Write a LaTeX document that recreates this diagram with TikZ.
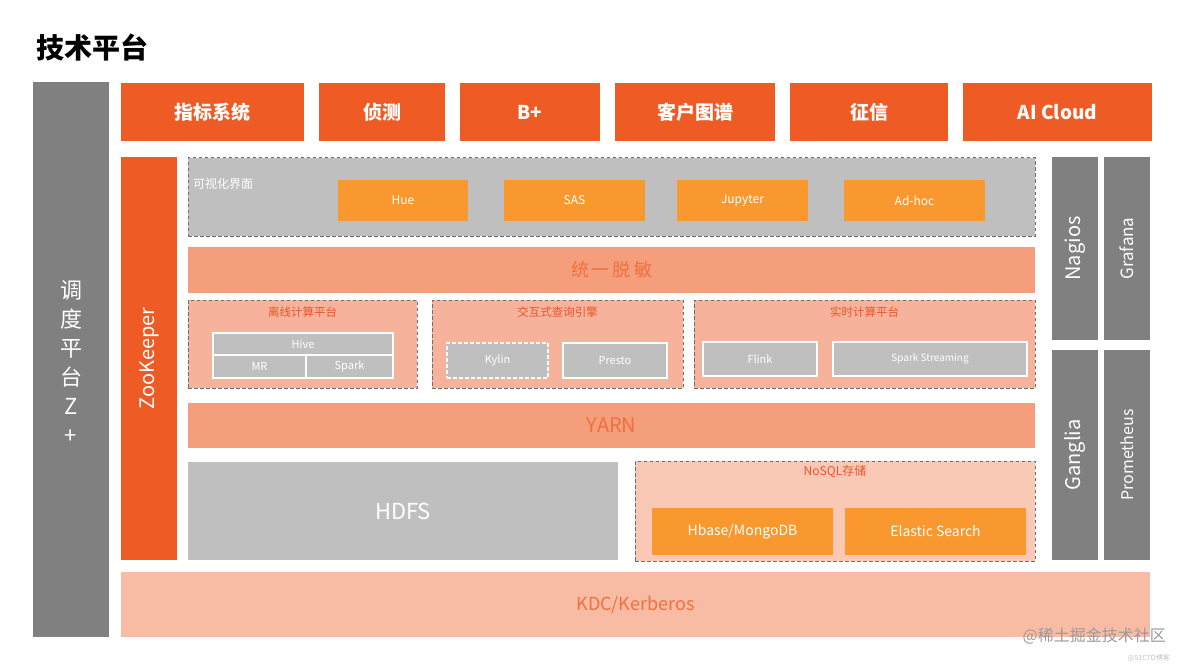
\documentclass[tikz,border=0pt]{standalone}
\usepackage{fontspec}
\setmainfont{Noto Sans CJK SC}
\usetikzlibrary{positioning}
\definecolor{cRed}{HTML}{EF5B25}
\definecolor{cGray}{HTML}{808080}
\definecolor{cLGray}{HTML}{BFBFBF}
\definecolor{cOrange}{HTML}{F9982F}
\definecolor{cBand}{HTML}{F49E7C}
\definecolor{cPanel}{HTML}{F6B29A}
\definecolor{cNoSQL}{HTML}{F9C9B6}
\definecolor{cKDC}{HTML}{F8BBA3}
\definecolor{cBandTxt}{HTML}{F0703E}
\definecolor{cLabel}{HTML}{E8562A}
\definecolor{cDash}{HTML}{6E6E6E}
\definecolor{cMark}{HTML}{9A9A9A}
\newcommand{\blk}[7]{\node[#1, anchor=north west, minimum width={#5-#3}, minimum height={#6-#4}] (#2) at (#3,#4) {#7};}
\tikzset{
  base/.style={inner sep=0pt, outer sep=0pt, draw=none},
  redbox/.style={base, fill=cRed, text=white, font=\fontsize{19}{19}\selectfont\bfseries},
  graycol/.style={base, fill=cGray},
  vistxt/.style={text=white, inner sep=0pt},
  dpanel/.style={base, draw=cDash, line width=1pt, dash pattern=on 3.5pt off 2.5pt},
  orbox/.style={base, fill=cOrange, text=white, font=\fontsize{12}{12}\selectfont},
  band/.style={base, fill=cBand, text=cBandTxt},
  gbox/.style={base, fill=cLGray, draw=white, line width=1.5pt, text=white, font=\fontsize{11}{11}\selectfont},
  plabel/.style={inner sep=0pt, text=cLabel, font=\fontsize{11.5}{11.5}\selectfont},
}
\begin{document}
\begin{tikzpicture}[x=1pt, y=-1pt]
\useasboundingbox[fill=white] (0,0) rectangle (1184,666);
% title
\node[anchor=west, inner sep=0pt, font=\fontsize{28}{28}\selectfont\bfseries] (title) at (36,48) {技术平台};
% left scheduling column
\blk{graycol}{sched}{33}{82}{109}{637}{}
\node[vistxt, align=center, font=\fontsize{22}{29}\selectfont] (schedt) at (71,362) {调\\度\\平\\台\\Z\\+};
% top application boxes
\blk{redbox}{app1}{121}{83}{304}{141}{指标系统}
\blk{redbox}{app2}{319}{83}{445}{141}{侦测}
\blk{redbox}{app3}{460}{83}{600}{141}{B+}
\blk{redbox}{app4}{615}{83}{775}{141}{客户图谱}
\blk{redbox}{app5}{790}{83}{948}{141}{征信}
\blk{redbox}{app6}{963}{83}{1152}{141}{AI Cloud}
% zookeeper
\blk{base, fill=cRed}{zk}{121}{157}{177}{560}{}
\node[vistxt, rotate=90, font=\fontsize{20}{20}\selectfont] (zkt) at (zk) {ZooKeeper};
% visualisation panel
\blk{dpanel, fill=cLGray}{vis}{188}{158}{1035}{236}{}
\node[vistxt, anchor=west, font=\fontsize{12}{12}\selectfont] (vist) at (193,184) {可视化界面};
\blk{orbox}{hue}{338}{180}{468}{221}{Hue}
\blk{orbox}{sas}{504}{180}{645}{221}{SAS}
\blk{orbox}{jup}{677}{180}{808}{221}{Jupyter}
\blk{orbox}{adhoc}{844}{180}{985}{221}{Ad-hoc}
% unified masking
\blk{band, font=\fontsize{18}{18}\selectfont}{mask}{188}{247}{1035}{293}{统\,一\,脱\,敏}
% compute panels
\blk{dpanel, fill=cPanel}{offline}{188}{300}{417}{388}{}
\node[plabel] (offt) at (302.5,312) {离线计算平台};
\blk{gbox}{hive}{213}{333}{393}{355}{Hive}
\blk{gbox}{mr}{213}{355}{306}{378}{MR}
\blk{gbox}{spark}{306}{355}{393}{378}{Spark}
\blk{dpanel, fill=cPanel}{inter}{432}{300}{683}{388}{}
\node[plabel] (intt) at (557.5,312) {交互式查询引擎};
\blk{gbox, dash pattern=on 4pt off 2pt}{kylin}{447}{343}{548}{378}{Kylin}
\blk{gbox}{presto}{563}{343}{667}{378}{Presto}
\blk{dpanel, fill=cPanel}{rt}{694}{300}{1035}{388}{}
\node[plabel] (rtt) at (864.5,312) {实时计算平台};
\blk{gbox}{flink}{703}{342}{817}{376}{Flink}
\blk{gbox, font=\fontsize{10}{10}\selectfont}{sstream}{833}{342}{1027}{376}{Spark Streaming}
% YARN
\blk{band, font=\fontsize{20}{20}\selectfont}{yarn}{188}{403}{1035}{448}{YARN}
% HDFS
\blk{base, fill=cLGray, text=white, font=\fontsize{22}{22}\selectfont}{hdfs}{188}{462}{618}{560}{HDFS}
% NoSQL
\blk{dpanel, fill=cNoSQL}{nosql}{635}{461}{1035}{561}{}
\node[plabel, font=\fontsize{12}{12}\selectfont] (nosqlt) at (835,472) {NoSQL存储};
\blk{orbox, font=\fontsize{14}{14}\selectfont}{hbase}{652}{508}{833}{555}{Hbase/MongoDB}
\blk{orbox, font=\fontsize{14}{14}\selectfont}{es}{845}{508}{1026}{555}{Elastic Search}
% monitoring columns
\blk{graycol}{nag}{1052}{157}{1098}{340}{}
\node[vistxt, rotate=90, font=\fontsize{20}{20}\selectfont] (nagt) at (nag) {Nagios};
\blk{graycol}{graf}{1104}{157}{1150}{340}{}
\node[vistxt, rotate=90, font=\fontsize{17}{17}\selectfont] (graft) at (graf) {Grafana};
\blk{graycol}{gang}{1052}{350}{1098}{560}{}
\node[vistxt, rotate=90, font=\fontsize{20}{20}\selectfont] (gangt) at (gang) {Ganglia};
\blk{graycol}{prom}{1104}{350}{1150}{560}{}
\node[vistxt, rotate=90, font=\fontsize{16}{16}\selectfont] (promt) at (prom) {Prometheus};
% KDC
\blk{base, fill=cKDC, text=cBandTxt, font=\fontsize{18}{18}\selectfont}{kdc}{121}{572}{1150}{637}{KDC/Kerberos}
% watermarks
\node[anchor=east, inner sep=0pt, text=cMark, font=\fontsize{16}{16}\selectfont] (wm1) at (1166,636) {@稀土掘金技术社区};
\node[anchor=east, inner sep=0pt, text=cMark!60, font=\fontsize{7}{7}\selectfont] (wm2) at (1170,658) {@51CTO博客};
\end{tikzpicture}
\end{document}
